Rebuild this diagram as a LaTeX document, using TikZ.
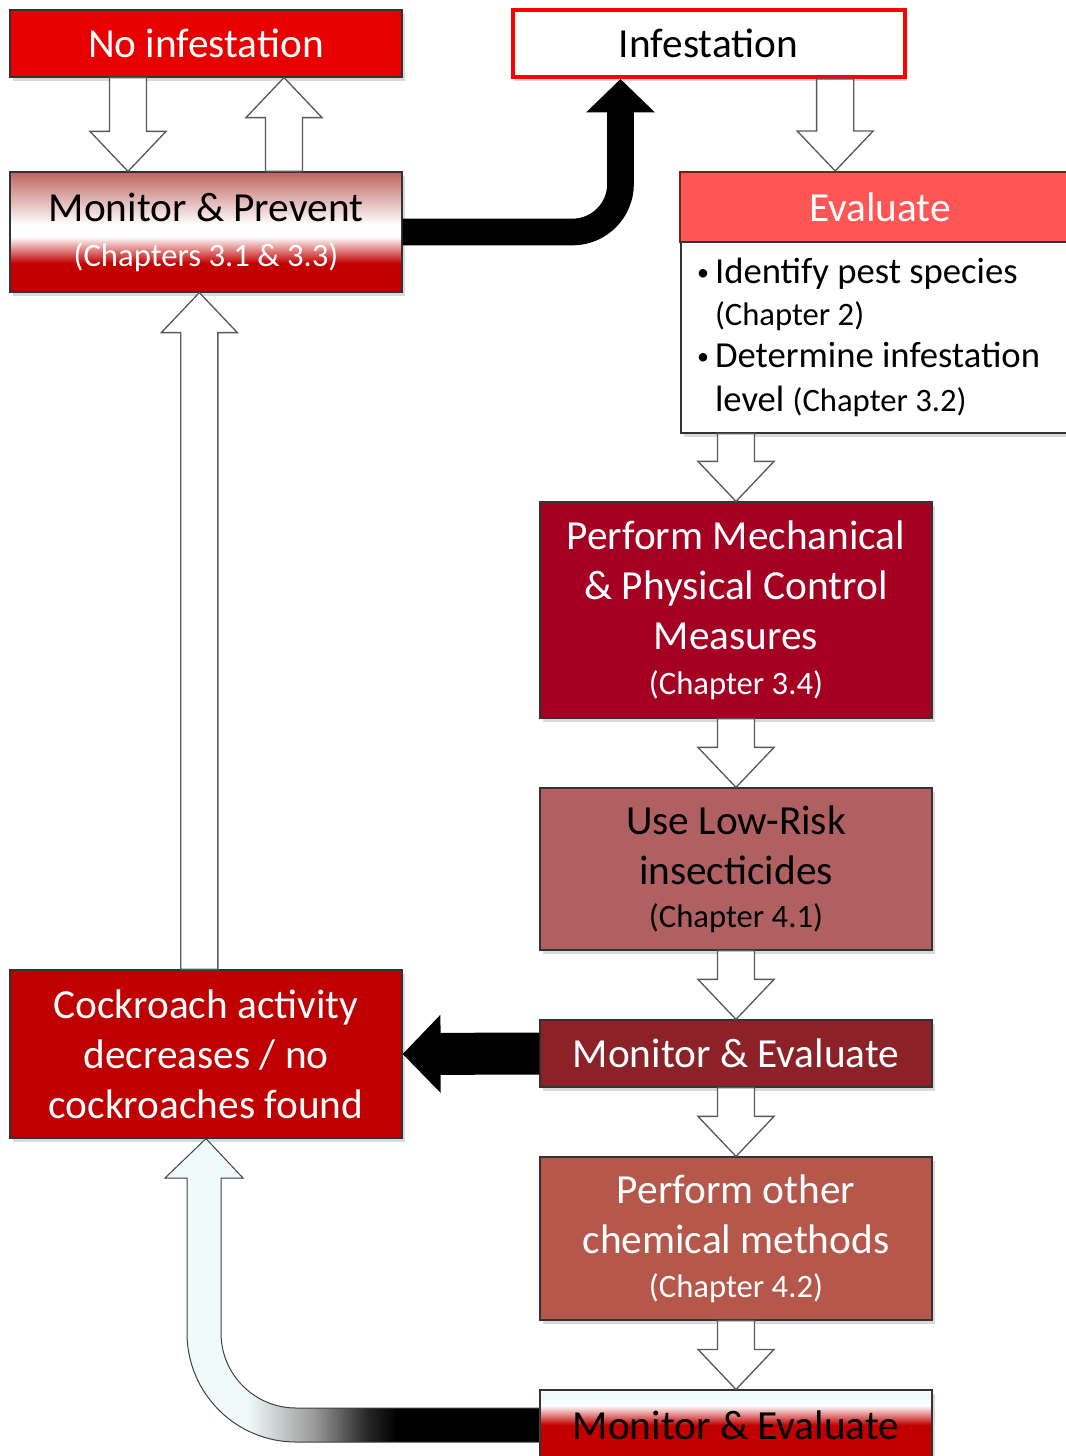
\documentclass[tikz,border=0pt]{standalone}
\usepackage{fontspec}
\setmainfont{Carlito}
\usetikzlibrary{arrows.meta, positioning, calc, shadows}

\definecolor{noinfred}{RGB}{232,0,0}
\definecolor{infestred}{RGB}{255,0,0}
\definecolor{evalred}{RGB}{255,85,85}
\definecolor{evaledge}{RGB}{120,30,30}
\definecolor{mechred}{RGB}{165,0,33}
\definecolor{lowriskred}{RGB}{176,96,96}
\definecolor{monevdark}{RGB}{140,34,40}
\definecolor{roachred}{RGB}{192,0,0}
\definecolor{otherred}{RGB}{181,88,75}
\definecolor{mptop}{RGB}{190,100,95}
\definecolor{mpred}{RGB}{195,0,0}
\definecolor{paleblue}{RGB}{240,250,250}
\colorlet{fadegray}{black!40}
\colorlet{fadedark}{black!85}

\pgfdeclareverticalshading{prevshade}{100bp}{color(0bp)=(mpred); color(37bp)=(mpred);
  color(48bp)=(white); color(53bp)=(white); color(75bp)=(mptop); color(100bp)=(mptop)}
\pgfdeclareverticalshading{evalshade}{100bp}{color(0bp)=(mpred); color(50bp)=(mpred);
  color(64bp)=(white); color(70bp)=(paleblue); color(100bp)=(paleblue)}
\pgfdeclarehorizontalshading{fadeshade}{100bp}{color(0bp)=(paleblue); color(36bp)=(paleblue);
  color(45bp)=(fadegray); color(52bp)=(fadedark); color(56bp)=(black); color(100bp)=(black)}

\def\pxu{0.75pt}
\def\shaftw{13.9pt}
\def\headw{28.5pt}
\def\headl{30pt}
\newcommand{\mainsize}{\fontsize{31}{37.5}\selectfont}
\newcommand{\chap}[1]{{\fontsize{24.5}{30}\selectfont #1}}
\newcommand{\bul}{\makebox[13.5pt][l]{\raisebox{2pt}{\fontsize{18}{18}\selectfont\textbullet}}}

% hollow block arrows: shaft x from #1, tip height from #2
\newcommand{\hollowdown}[2]{%
  \draw[hollow] let \p1=(#1), \p2=(#2) in
    (\x1-\shaftw,\y1) -- (\x1-\shaftw,\y2+\headl) -- (\x1-\headw,\y2+\headl) -- (\x1,\y2)
    -- (\x1+\headw,\y2+\headl) -- (\x1+\shaftw,\y2+\headl) -- (\x1+\shaftw,\y1) -- cycle;}
\newcommand{\hollowup}[2]{%
  \draw[hollow] let \p1=(#1), \p2=(#2) in
    (\x1-\shaftw,\y1) -- (\x1-\shaftw,\y2-\headl) -- (\x1-\headw,\y2-\headl) -- (\x1,\y2)
    -- (\x1+\headw,\y2-\headl) -- (\x1+\shaftw,\y2-\headl) -- (\x1+\shaftw,\y1) -- cycle;}

\begin{document}
\begin{tikzpicture}[
  x=\pxu, y=-\pxu,
  box/.style={rectangle, draw=black!80, line width=0.9pt, minimum width=392*\pxu,
              align=center, font=\mainsize, inner sep=0pt,
              drop shadow={shadow xshift=2pt, shadow yshift=-3pt, opacity=0.3}},
  hollow/.style={fill=white, draw=black!65, line width=1pt, line join=miter},
  solidarrow/.style={draw=black, line cap=butt}
]
\useasboundingbox (0,0) rectangle (1065,1456);

% left column
\node[box, fill=noinfred, text=white, minimum height=67*\pxu] (noinf) at (206,43.5)
  {No infestation};
\node[box, shade, shading=prevshade, minimum height=120*\pxu] (monprev) at (206,232)
  {Monitor \& Prevent\\[-3.75pt]\chap{\textcolor{white}{(Chapters 3.1 \& 3.3)}}};
\node[box, fill=roachred, text=white, minimum height=168*\pxu] (roach) at (206,1054)
  {Cockroach activity\\ decreases / no\\ cockroaches found};

% right column
\node[box, fill=white, draw=infestred, line width=3pt, minimum height=67*\pxu]
  (infest) at (708.5,43.5) {Infestation};
\node[box, fill=evalred, text=white, draw=evaledge, line width=1.5pt,
      minimum width=400*\pxu, minimum height=70*\pxu]
  (eval) at (880,207) {Evaluate};
\node[box, fill=white, align=flush left, minimum width=399*\pxu, minimum height=191*\pxu,
      text width=367*\pxu, inner xsep=16*\pxu, font=\fontsize{27.5}{31.5}\selectfont]
  (evalbox) at (880.5,337.5)
  {\bul Identify pest species\\
   \hspace*{13.5pt}\chap{(Chapter 2)}\\
   \bul Determine infestation\\[2pt]
   \hspace*{13.5pt}level \chap{(Chapter 3.2)}};
\node[box, fill=mechred, text=white, minimum height=216*\pxu] (mech) at (736,610)
  {Perform Mechanical\\ \& Physical Control\\ Measures\\[-3.75pt]\chap{(Chapter 3.4)}};
\node[box, fill=lowriskred, minimum height=162*\pxu] (lowrisk) at (736,869)
  {Use Low-Risk\\ insecticides\\[-5pt]\chap{(Chapter 4.1)}};
\node[box, fill=monevdark, text=white, minimum height=67*\pxu] (monev) at (736,1053.5)
  {Monitor \& Evaluate};
\node[box, fill=otherred, text=white, minimum height=163*\pxu] (other) at (736,1238.5)
  {Perform other\\ chemical methods\\[-4.5pt]\chap{(Chapter 4.2)}};
\node[box, shade, shading=evalshade, minimum height=70*\pxu] (monevb) at (736,1425)
  {Monitor \& Evaluate};

% hollow block arrows
\hollowdown{[xshift=-58.5pt]noinf.south}{monprev.north}
\hollowup{[xshift=58.5pt]monprev.north}{noinf.south}
\hollowdown{[xshift=95pt]infest.south}{eval.north}
\hollowdown{mech.north |- evalbox.south}{mech.north}
\hollowdown{mech.south}{lowrisk.north}
\hollowdown{lowrisk.south}{monev.north}
\hollowdown{monev.south}{other.north}
\hollowdown{other.south}{monevb.north}
\hollowup{[xshift=-5pt]roach.north}{monprev.south}

% solid arrows
\draw[solidarrow, line width=20pt, rounded corners=36pt,
      -{Triangle[width=50pt, length=25pt]}]
  (monprev.east) -| ([xshift=-66pt]infest.south);
\draw[solidarrow, line width=31.5pt, -{Triangle[width=57pt, length=28.5pt]}]
  (monev.west) -- (roach.east);

% fading arrow back to the cockroach box
\shadedraw[shading=fadeshade, draw=black!75, line width=0.75pt]
  ($(monevb.west)+(0,-17)$) -- (296,1408) arc[start angle=270, end angle=180, radius=56.25pt]
  -- (221,1178) -- (243,1178) -- (roach.south) -- (165,1178) -- (187,1178) -- (187,1333)
  arc[start angle=180, end angle=270, radius=81.75pt] -- ($(monevb.west)+(0,17)$) -- cycle;
\end{tikzpicture}
\end{document}
